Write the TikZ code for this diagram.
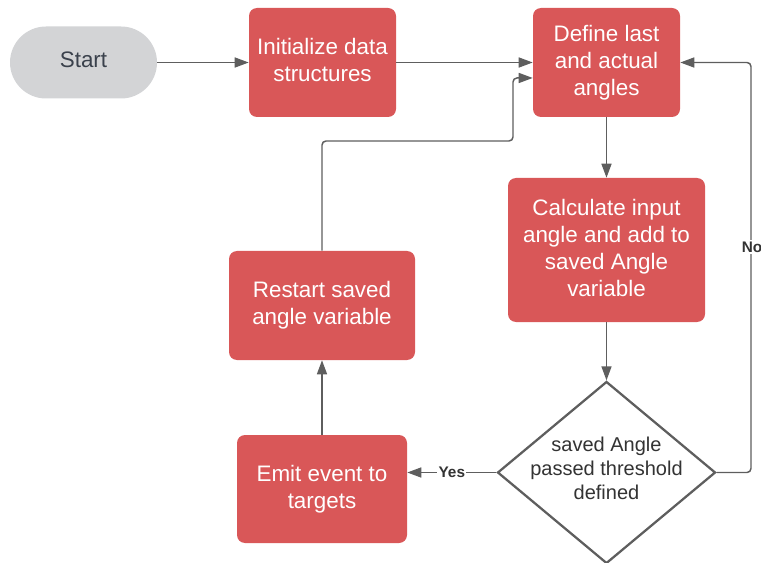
\documentclass[tikz,border=0pt]{standalone}
\usepackage{fontspec}
\setmainfont{Liberation Sans}
\usetikzlibrary{arrows.meta,shapes.geometric,calc}

\definecolor{boxred}{RGB}{217,87,88}
\definecolor{startgray}{RGB}{211,212,214}
\definecolor{starttext}{RGB}{58,65,76}
\definecolor{linegray}{RGB}{94,94,94}
\definecolor{darktext}{RGB}{51,51,51}

\tikzset{
  procbox/.style={draw=none, fill=boxred, rounded corners=6pt, text=white,
    align=center, inner sep=0pt,
    font=\fontsize{16.8}{20.25}\selectfont,
    execute at end node={\vphantom{g}}},
  startbox/.style={draw=none, fill=startgray, rounded corners=27pt, text=starttext,
    align=center, inner sep=0pt,
    font=\fontsize{16.8}{20.25}\selectfont,
    execute at end node={\vphantom{g}}},
  decision/.style={diamond, draw=linegray, line width=1.7pt, fill=white,
    inner sep=0pt},
  dectextstyle/.style={align=center, text=darktext, inner sep=0pt,
    font=\fontsize{15}{18}\selectfont},
  conn/.style={draw=linegray, line width=1.1pt},
  arr/.style={conn, -{Triangle[length=10.5pt,width=7.5pt]}},
  lbl/.style={fill=white, text=darktext, inner sep=1pt,
    font=\fontsize{11.5}{13}\selectfont\bfseries},
}

\begin{document}
\begin{tikzpicture}[x=0.75pt, y=-0.75pt]
  \useasboundingbox (0,0) rectangle (761,563);

  % nodes
  \node[startbox, minimum width=110.25pt, minimum height=54pt] (start) at (83.5,62.5) {Start};
  \node[procbox, minimum width=110.25pt, minimum height=81.75pt] (init) at (322.5,62.5) {Initialize data\\structures};
  \node[procbox, minimum width=110.25pt, minimum height=81.75pt] (define) at (606.5,62.5) {Define last\\and actual\\angles};
  \node[procbox, minimum width=147.75pt, minimum height=108pt] (calc) at (606.5,250) {Calculate input\\angle and add to\\saved Angle\\variable};
  \node[procbox, minimum width=139.5pt, minimum height=81.75pt] (restart) at (322,305.5) {Restart saved\\angle variable};
  \node[procbox, minimum width=127.5pt, minimum height=81pt] (emit) at (322,489) {Emit event to\\targets};
  \node[decision, minimum width=163.5pt, minimum height=136.5pt] (dec) at (606.5,472.5) {};
  \node[dectextstyle] (dectext) at (606.5,468.5) {saved Angle\\passed threshold\\defined};

  % helper points for bent connectors
  \coordinate (din) at ([yshift=-11.6pt]define.west);
  \coordinate (j1) at (513,141);
  \coordinate (j2) at (751,62.5);

  % connectors
  \draw[arr] (start.east) -- (init.west);
  \draw[arr] (init.east) -- (define.west);
  \draw[arr, rounded corners=3pt] (restart.north) |- (j1) |- (din);
  \draw[arr] (define.south) -- (calc.north);
  \draw[arr] (calc.south) -- (dec.north);
  \draw[arr, rounded corners=3pt] (dec.east) -| (j2) -- (define.east);
  \node[lbl] (nolbl) at (752,247) {No};
  \draw[arr] (dec.west) -- node[lbl] (yeslbl) {Yes} (dec.west -| emit.east);
  \draw[arr] (emit.north) -- (restart.south);
\end{tikzpicture}
\end{document}
